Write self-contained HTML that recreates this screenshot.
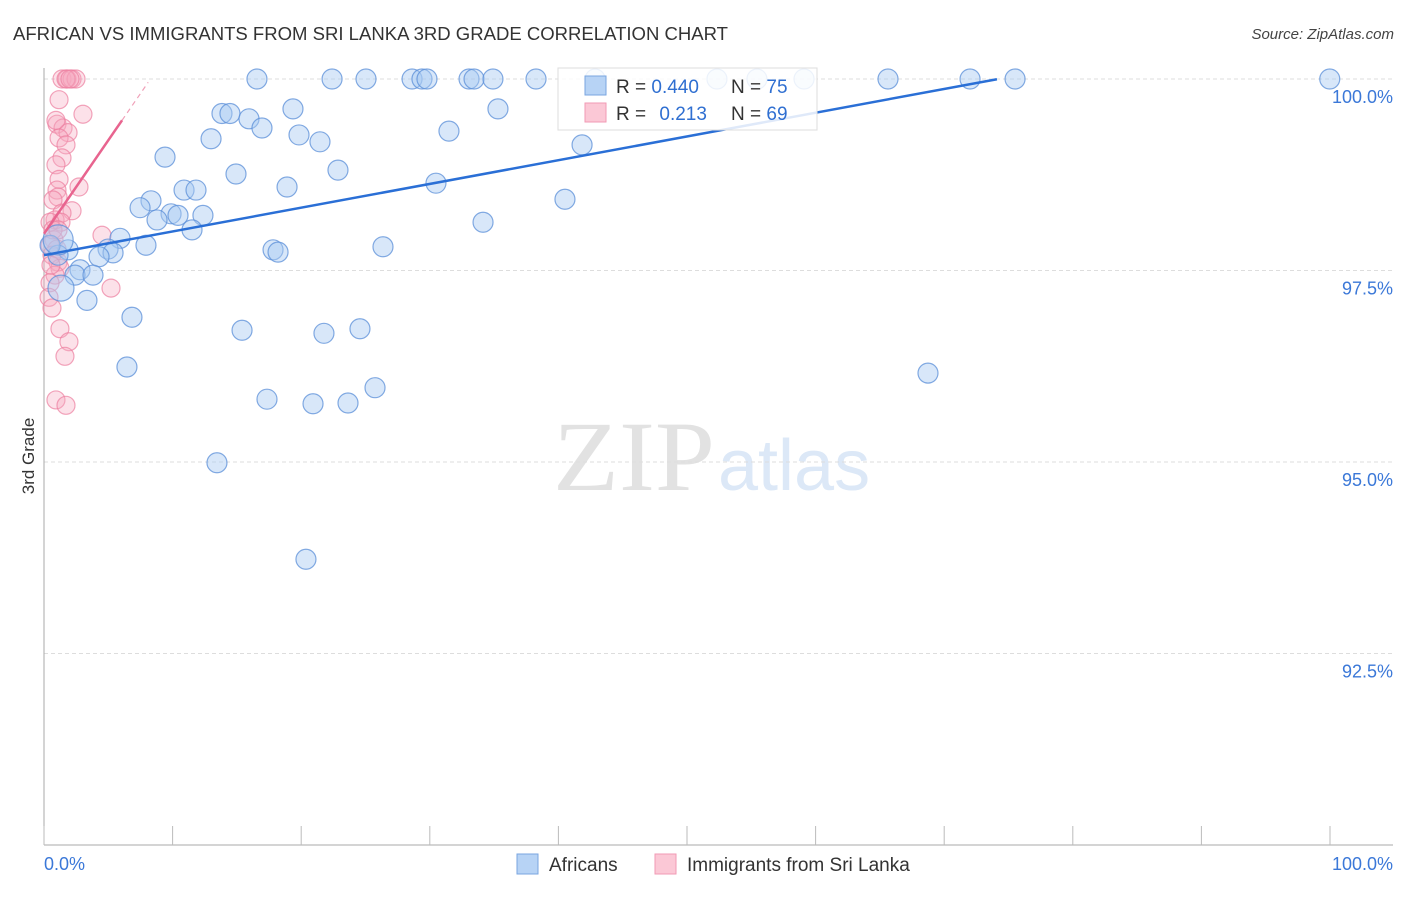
<!DOCTYPE html>
<html><head><meta charset="utf-8"><style>
body{margin:0;background:#fff;font-family:"Liberation Sans",sans-serif;}
</style></head><body>
<svg id="chart" width="1406" height="892" viewBox="0 0 1406 892" xmlns="http://www.w3.org/2000/svg" font-family="Liberation Sans, sans-serif">
<text x="13" y="40" font-size="18" fill="#333" textLength="715" lengthAdjust="spacingAndGlyphs">AFRICAN VS IMMIGRANTS FROM SRI LANKA 3RD GRADE CORRELATION CHART</text>
<text x="1394" y="39" font-size="15" fill="#444" font-style="italic" text-anchor="end">Source: ZipAtlas.com</text>
<text transform="translate(34,456) rotate(-90)" font-size="17" fill="#333" text-anchor="middle">3rd Grade</text>
<g>
<text x="553" y="490" font-size="100" fill="#e2e2e2" font-family="Liberation Serif, serif" textLength="162" lengthAdjust="spacingAndGlyphs">ZIP</text>
<text x="718" y="490" font-size="72" fill="#dce8f7">atlas</text>
</g>
<g id="grid"></g><g id="axes"></g><g id="pink"></g><g id="blue"></g><g id="lines"></g>
<g>
<rect x="558" y="68" width="259" height="62" fill="#fff" fill-opacity="0.85" stroke="#ddd"/>
<rect x="585" y="76" width="21" height="19" fill="#b7d3f5" stroke="#7aa6e0"/>
<rect x="585" y="103" width="21" height="19" fill="#fbc8d6" stroke="#f19ab4"/>
<text x="616" y="93" font-size="19" fill="#333">R = <tspan fill="#2f6fd1">0.440</tspan></text>
<text x="731" y="93" font-size="19" fill="#333">N = <tspan fill="#2f6fd1">75</tspan></text>
<text x="616" y="120" font-size="19" fill="#333">R = <tspan fill="#2f6fd1" dx="8">0.213</tspan></text>
<text x="731" y="120" font-size="19" fill="#333">N = <tspan fill="#2f6fd1">69</tspan></text>
</g>
<g>
<rect x="517" y="854" width="21" height="20" fill="#b7d3f5" stroke="#7aa6e0"/>
<text x="549" y="871" font-size="19" fill="#333">Africans</text>
<rect x="655" y="854" width="21" height="20" fill="#fbc8d6" stroke="#f19ab4"/>
<text x="687" y="871" font-size="19" fill="#333">Immigrants from Sri Lanka</text>
</g>
<text x="44" y="870" font-size="18" fill="#3b78d8">0.0%</text>
<text x="1393" y="870" font-size="18" fill="#3b78d8" text-anchor="end">100.0%</text>
</svg>
<script>
const yTicks=[100,97.5,95,92.5];
const yTickLabels=["100.0%","97.5%","95.0%","92.5%"];
const xTicks=[0,10,20,30,40,50,60,70,80,90,100];
const blueX=[16.56,22.40,25.04,28.62,29.39,29.78,33.05,33.44,34.91,38.26,42.85,52.33,55.44,59.10,65.63,72.01,75.51,99.98,19.36,35.30,13.84,14.46,15.94,16.95,31.49,12.99,19.83,21.46,41.84,9.41,22.86,14.93,18.90,10.89,11.82,30.48,8.32,40.51,7.47,9.88,10.42,12.36,8.79,34.14,11.51,5.91,7.93,26.36,17.81,18.20,1.87,4.98,5.37,4.28,1.09,2.80,2.41,3.81,1.32,3.34,6.84,15.40,21.77,24.57,6.45,68.74,25.74,17.34,20.92,23.64,13.45,20.37,0.47,1.1];
const blueY=[100,100,100,100,100,100,100,100,100,100,100,100,100,100,100,100,100,100,99.61,99.61,99.55,99.55,99.48,99.36,99.32,99.22,99.27,99.18,99.14,98.98,98.81,98.76,98.59,98.55,98.55,98.64,98.41,98.43,98.32,98.24,98.22,98.22,98.16,98.13,98.03,97.92,97.83,97.81,97.77,97.74,97.77,97.78,97.73,97.68,97.70,97.51,97.44,97.44,97.27,97.11,96.89,96.72,96.68,96.74,96.24,96.16,95.97,95.82,95.76,95.77,94.99,93.73,97.83,97.9];
const blueR=[10,10,10,10,10,10,10,10,10,10,10,10,10,10,10,10,10,10,10,10,10,10,10,10,10,10,10,10,10,10,10,10,10,10,10,10,10,10,10,10,10,10,10,10,10,10,10,10,10,10,10,10,10,10,10,10,10,10,13,10,10,10,10,10,10,10,10,10,10,10,10,10,10,15];
const pinkX=[1.40,1.79,2.18,2.49,1.71,2.02,1.17,3.03,1.01,1.48,1.87,1.17,1.71,1.40,0.93,1.17,2.72,1.01,1.09,0.70,2.18,1.40,0.86,1.32,0.47,4.51,0.78,0.47,1.01,0.62,1.09,1.24,0.86,0.47,5.21,0.39,0.62,1.24,1.94,1.63,0.93,1.71,0.70,1.09,0.54,0.93];
const pinkY=[100,100,100,100,100,100,99.73,99.54,99.41,99.36,99.30,99.23,99.14,98.97,98.88,98.69,98.59,98.55,98.46,98.42,98.28,98.25,98.16,98.13,98.13,97.96,97.90,97.83,97.78,97.70,97.61,97.53,97.44,97.34,97.27,97.15,97.01,96.74,96.57,96.38,95.81,95.74,98.03,98.03,97.57,99.46];
const blueFit=[97.70,0.031,0,74.1];
const pinkFit=[97.98,0.244,0,6.07,8.1];
const NS="http://www.w3.org/2000/svg";
const sx=v=>44+v*12.86;
const sy=v=>79+(100-v)*76.6;
function mk(tag,attrs,parent){const e=document.createElementNS(NS,tag);for(const k in attrs)e.setAttribute(k,attrs[k]);document.getElementById(parent).appendChild(e);return e;}
yTicks.forEach((t,i)=>{
  const l=mk('line',{x1:44,x2:1393,y1:sy(t),y2:sy(t),stroke:'#ddd','stroke-dasharray':'4 3'},'grid');
  
  
  const tx=mk('text',{x:1393,y:sy(t)+24,'font-size':18,fill:'#3b78d8','text-anchor':'end'},'grid');
  tx.textContent=yTickLabels[i];
  
  
});
const ya=mk('line',{x1:44,x2:44,y1:68,y2:845,stroke:'#aaa'},'axes');


const xa=mk('line',{x1:44,x2:1393,y1:845,y2:845,stroke:'#aaa'},'axes');


xTicks.forEach(t=>{
  const l=mk('line',{x1:sx(t),x2:sx(t),y1:826,y2:845,stroke:'#bbb'},'axes');
  
  
});
pinkX.forEach((x,i)=>{
  const c=mk('circle',{cx:sx(x),cy:sy(pinkY[i]),r:9,fill:'#f7a8c0','fill-opacity':0.35,stroke:'#ec7fa0','stroke-opacity':0.7,'stroke-width':1.2},'pink');
  
  
});
blueX.forEach((x,i)=>{
  const c=mk('circle',{cx:sx(x),cy:sy(blueY[i]),r:blueR[i],fill:'#a9c9f1','fill-opacity':0.45,stroke:'#5b8fd8','stroke-opacity':0.75,'stroke-width':1.2},'blue');
  
  
});
const bl=mk('line',{x1:sx(blueFit[2]),y1:sy(blueFit[0]+blueFit[1]*blueFit[2]),x2:sx(blueFit[3]),y2:sy(blueFit[0]+blueFit[1]*blueFit[3]),stroke:'#2a6fd6','stroke-width':2.5},'lines');


const pl=mk('line',{x1:sx(pinkFit[2]),y1:sy(pinkFit[0]+pinkFit[1]*pinkFit[2]),x2:sx(pinkFit[3]),y2:sy(pinkFit[0]+pinkFit[1]*pinkFit[3]),stroke:'#e8648f','stroke-width':2.5},'lines');


const pd=mk('line',{x1:sx(pinkFit[3]),y1:sy(pinkFit[0]+pinkFit[1]*pinkFit[3]),x2:sx(pinkFit[4]),y2:sy(pinkFit[0]+pinkFit[1]*pinkFit[4]),stroke:'#f0a0b8','stroke-width':1.2,'stroke-dasharray':'5 4'},'lines');


</script>
</body></html>
